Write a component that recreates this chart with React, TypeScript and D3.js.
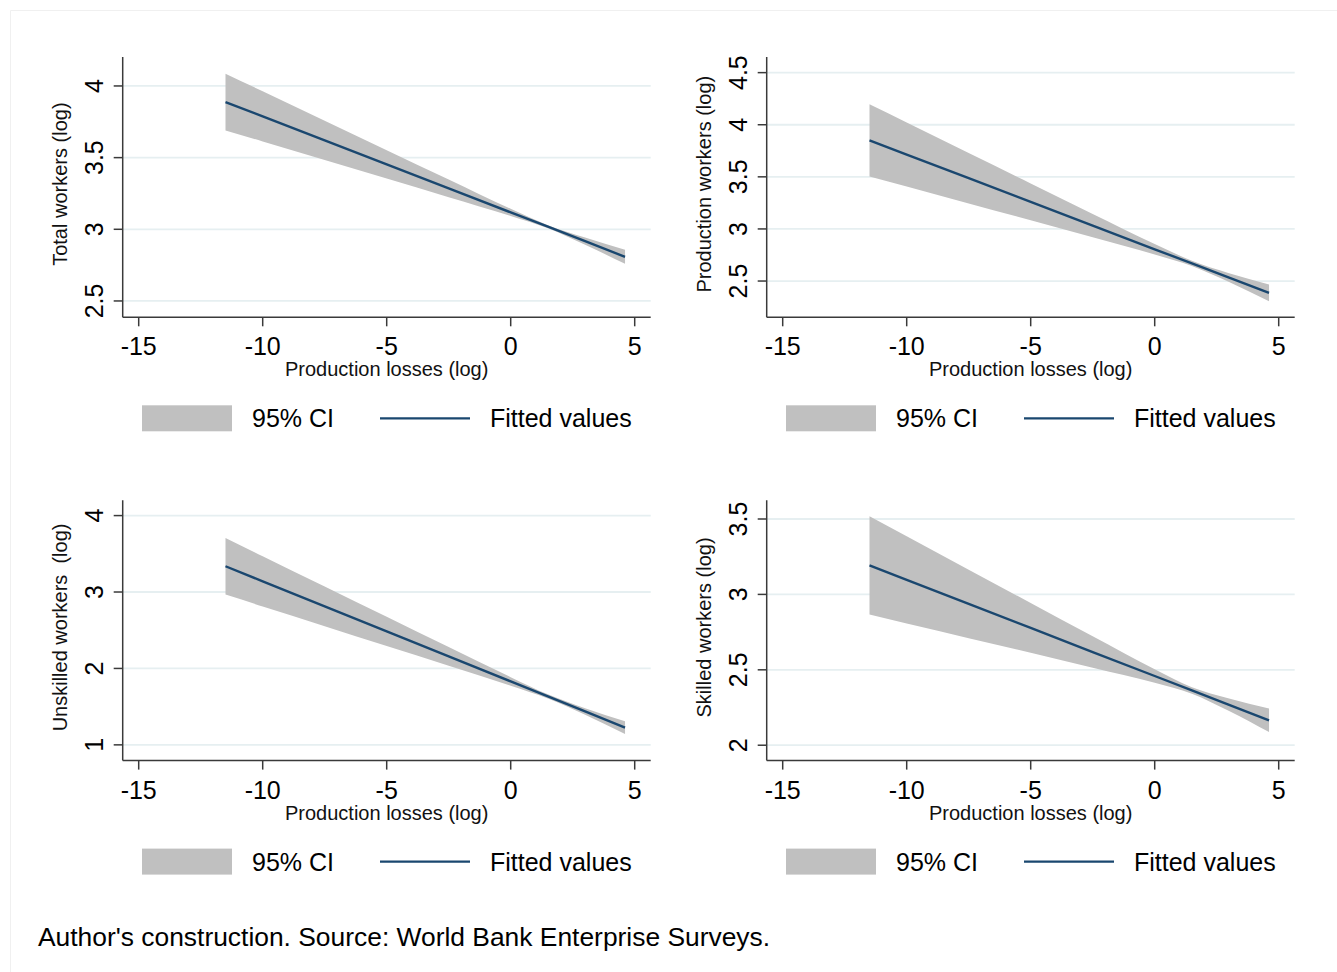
import React from "react";
import * as d3 from "d3";

// ---------- data ----------
const xGrid = [-11.5, -10, -7.5, -5, -2.5, 0, 1.5, 3, 4.61];
const xTicks = [-15, -10, -5, 0, 5];
const xTickLabels = ["-15", "-10", "-5", "0", "5"];

const totalFit = [3.888, 3.788, 3.621, 3.453, 3.286, 3.118, 3.018, 2.917, 2.808];
const totalLo = [3.69, 3.613, 3.484, 3.354, 3.224, 3.093, 3.007, 2.892, 2.759];
const totalHi = [4.086, 3.963, 3.758, 3.552, 3.348, 3.143, 3.029, 2.942, 2.857];
const totalTicks = [2.5, 3, 3.5, 4];
const totalTickLabels = ["2.5", "3", "3.5", "4"];

const prodFit = [3.85, 3.714, 3.487, 3.26, 3.032, 2.805, 2.669, 2.532, 2.386];
const prodLo = [3.504, 3.407, 3.245, 3.083, 2.92, 2.754, 2.644, 2.49, 2.306];
const prodHi = [4.196, 4.021, 3.729, 3.437, 3.144, 2.856, 2.694, 2.574, 2.466];
const prodTicks = [2.5, 3, 3.5, 4, 4.5];
const prodTickLabels = ["2.5", "3", "3.5", "4", "4.5"];

const unskFit = [3.337, 3.14, 2.813, 2.485, 2.158, 1.83, 1.634, 1.437, 1.226];
const unskLo = [2.966, 2.811, 2.553, 2.294, 2.036, 1.774, 1.607, 1.395, 1.143];
const unskHi = [3.708, 3.469, 3.073, 2.676, 2.28, 1.886, 1.661, 1.479, 1.309];
const unskTicks = [1, 2, 3, 4];
const unskTickLabels = ["1", "2", "3", "4"];

const skFit = [3.192, 3.096, 2.937, 2.778, 2.618, 2.459, 2.363, 2.268, 2.165];
const skLo = [2.866, 2.807, 2.71, 2.613, 2.514, 2.414, 2.342, 2.227, 2.087];
const skHi = [3.518, 3.385, 3.164, 2.943, 2.722, 2.504, 2.384, 2.309, 2.243];
const skTicks = [2, 2.5, 3, 3.5];
const skTickLabels = ["2", "2.5", "3", "3.5"];

const xTitle = "Production losses (log)";
const legendLabels = ["95% CI", "Fitted values"];
const footnote = "Author's construction. Source: World Bank Enterprise Surveys.";

// ---------- layout ----------
const W = 1337;
const H = 972;
const FONT = "'Liberation Sans', Arial, Helvetica, sans-serif";
const FIT_COLOR = "#1a476f";
const CI_COLOR = "#c0c0c0";
const GRID_COLOR = "#e6eff1";
const AXIS_COLOR = "#3a3a3a";

const xDomain: [number, number] = [-15.645, 5.645];

type PanelSpec = {
  title: string;
  fit: number[];
  lo: number[];
  hi: number[];
  ticks: number[];
  tickLabels: string[];
  yDomain: [number, number];
  dx: number;
  dy: number;
};

const panels: PanelSpec[] = [
  { title: "Total workers (log)", fit: totalFit, lo: totalLo, hi: totalHi, ticks: totalTicks, tickLabels: totalTickLabels, yDomain: [2.386, 4.202], dx: 0, dy: 0 },
  { title: "Production workers (log)", fit: prodFit, lo: prodLo, hi: prodHi, ticks: prodTicks, tickLabels: prodTickLabels, yDomain: [2.152, 4.65], dx: 644, dy: 0 },
  { title: "Unskilled workers  (log)", fit: unskFit, lo: unskLo, hi: unskHi, ticks: unskTicks, tickLabels: unskTickLabels, yDomain: [0.794, 4.2], dx: 0, dy: 443.3 },
  { title: "Skilled workers (log)", fit: skFit, lo: skLo, hi: skHi, ticks: skTicks, tickLabels: skTickLabels, yDomain: [1.898, 3.624], dx: 644, dy: 443.3 },
];

const PL = 122.7;
const PR = 650.7;
const PT = 57;
const PB = 317.3;

function Panel({ p }: { p: PanelSpec }) {
  const left = PL + p.dx;
  const right = PR + p.dx;
  const top = PT + p.dy;
  const bottom = PB + p.dy;
  const x = d3.scaleLinear().domain(xDomain).range([left, right]);
  const y = d3.scaleLinear().domain(p.yDomain).range([bottom, top]);
  const idx = xGrid.map((_, i) => i);
  const area = d3
    .area<number>()
    .x((i) => x(xGrid[i]))
    .y0((i) => y(p.lo[i]))
    .y1((i) => y(p.hi[i]))
    .curve(d3.curveMonotoneX);
  const line = d3
    .line<number>()
    .x((i) => x(xGrid[i]))
    .y((i) => y(p.fit[i]));
  const midY = (top + bottom) / 2;
  const midX = (left + right) / 2;
  const legY = bottom + 101;
  const legX = 142 + p.dx;
  return (
    <g>
      {p.ticks.map((t) => (
        <line key={"g" + t} x1={left} x2={right} y1={y(t)} y2={y(t)} stroke={GRID_COLOR} strokeWidth={1.8} />
      ))}
      <path d={area(idx) || ""} fill={CI_COLOR} stroke="none" />
      <path d={line(idx) || ""} fill="none" stroke={FIT_COLOR} strokeWidth={2.4} />
      {/* axes */}
      <line x1={left} x2={left} y1={top} y2={bottom} stroke={AXIS_COLOR} strokeWidth={1.5} />
      <line x1={left} x2={right} y1={bottom} y2={bottom} stroke={AXIS_COLOR} strokeWidth={1.5} />
      {p.ticks.map((t, i) => (
        <g key={"yt" + t}>
          <line x1={left - 9} x2={left} y1={y(t)} y2={y(t)} stroke={AXIS_COLOR} strokeWidth={1.5} />
          <text
            transform={`translate(${left - 20},${y(t)}) rotate(-90)`}
            textAnchor="middle"
            fontSize={25}
            fontFamily={FONT}
            fill="#000"
          >
            {p.tickLabels[i]}
          </text>
        </g>
      ))}
      {xTicks.map((t, i) => (
        <g key={"xt" + t}>
          <line x1={x(t)} x2={x(t)} y1={bottom} y2={bottom + 9} stroke={AXIS_COLOR} strokeWidth={1.5} />
          <text x={x(t)} y={bottom + 38} textAnchor="middle" fontSize={25} fontFamily={FONT} fill="#000">
            {xTickLabels[i]}
          </text>
        </g>
      ))}
      <text x={midX} y={bottom + 59} textAnchor="middle" fontSize={20} fontFamily={FONT} fill="#111">
        {xTitle}
      </text>
      <text
        transform={`translate(${left - 56},${midY - 3}) rotate(-90)`}
        textAnchor="middle"
        fontSize={20}
        fontFamily={FONT}
        fill="#111"
        style={{ whiteSpace: "pre" }}
      >
        {p.title}
      </text>
      {/* legend */}
      <rect x={legX} y={legY - 13} width={90} height={26} fill={CI_COLOR} />
      <text x={legX + 110} y={legY + 9} fontSize={25} fontFamily={FONT} fill="#000">
        {legendLabels[0]}
      </text>
      <line x1={legX + 238} x2={legX + 328} y1={legY} y2={legY} stroke={FIT_COLOR} strokeWidth={2.2} />
      <text x={legX + 348} y={legY + 9} fontSize={25} fontFamily={FONT} fill="#000">
        {legendLabels[1]}
      </text>
    </g>
  );
}

export default function App() {
  return (
    <div style={{ position: "absolute", left: 0, top: 0 }}>
      <svg width={W} height={H} viewBox={`0 0 ${W} ${H}`} style={{ display: "block", background: "#fff" }}>
        <rect x={0} y={0} width={W} height={H} fill="#fff" />
        <line x1={10.5} x2={W} y1={10.5} y2={10.5} stroke="#f0f0f0" strokeWidth={1} />
        <line x1={10.5} x2={10.5} y1={10.5} y2={H} stroke="#f0f0f0" strokeWidth={1} />
        {panels.map((p, i) => (
          <Panel key={i} p={p} />
        ))}
        <text x={38} y={946} fontSize={26.4} fontFamily={FONT} fill="#000">
          {footnote}
        </text>
      </svg>
    </div>
  );
}
